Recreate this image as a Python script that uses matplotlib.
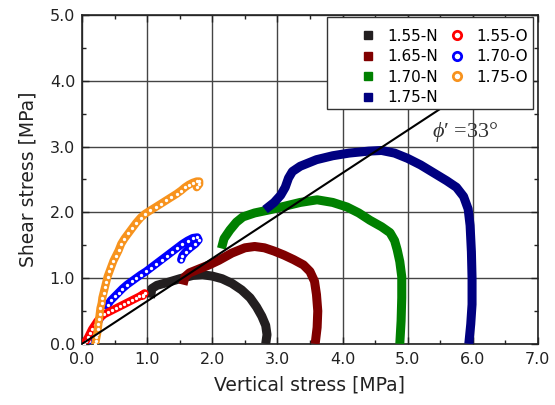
import numpy as np
import matplotlib
matplotlib.use("Agg")
import matplotlib.pyplot as plt
from matplotlib.patches import Rectangle
from matplotlib.ticker import MultipleLocator, FormatStrFormatter

plt.rcParams['font.family'] = ['DejaVu Sans']
plt.rcParams['mathtext.fontset'] = 'custom'
plt.rcParams['mathtext.it'] = 'Liberation Serif:italic'
plt.rcParams['mathtext.rm'] = 'Liberation Serif'

# Stress paths, dry density + condition (N / O)
n155_x = [1.05, 1.07, 1.15, 1.30, 1.50, 1.70, 1.85, 2.00, 2.15, 2.30, 2.45, 2.58, 2.68, 2.76, 2.82, 2.84, 2.82]
n155_y = [0.70, 0.84, 0.89, 0.93, 0.99, 1.04, 1.05, 1.03, 0.99, 0.92, 0.82, 0.70, 0.56, 0.42, 0.28, 0.14, 0.00]

n165_x = [1.55, 1.58, 1.65, 1.80, 1.95, 2.10, 2.30, 2.50, 2.65, 2.80, 2.95, 3.10, 3.25, 3.40, 3.50,
          3.57, 3.60, 3.62, 3.61, 3.58]
n165_y = [0.90, 1.02, 1.08, 1.14, 1.20, 1.27, 1.38, 1.46, 1.48, 1.46, 1.41, 1.35, 1.28, 1.20, 1.10,
          0.95, 0.75, 0.50, 0.25, 0.00]

n170_x = [2.14, 2.18, 2.27, 2.37, 2.47, 2.65, 2.89, 3.10, 3.35, 3.61, 3.85, 4.07, 4.25, 4.42, 4.60,
          4.73, 4.80, 4.84, 4.88, 4.91, 4.91, 4.90, 4.88]
n170_y = [1.45, 1.60, 1.73, 1.85, 1.93, 1.99, 2.04, 2.09, 2.15, 2.19, 2.15, 2.08, 1.99, 1.88, 1.78,
          1.69, 1.57, 1.43, 1.25, 1.02, 0.70, 0.35, 0.00]

n175_x = [2.81, 2.95, 3.05, 3.12, 3.17, 3.23, 3.35, 3.60, 3.85, 4.10, 4.40, 4.60, 4.80, 5.00, 5.20,
          5.40, 5.60, 5.75, 5.86, 5.93, 5.96, 5.98, 5.99, 5.99, 5.97, 5.94]
n175_y = [2.04, 2.15, 2.26, 2.38, 2.52, 2.62, 2.70, 2.80, 2.86, 2.90, 2.93, 2.94, 2.90, 2.82, 2.72,
          2.60, 2.48, 2.38, 2.24, 2.05, 1.80, 1.40, 1.00, 0.60, 0.30, 0.00]

o155_x = [0.03, 0.06, 0.09, 0.12, 0.15, 0.19, 0.23, 0.28, 0.34, 0.40, 0.46, 0.52,
          0.58, 0.64, 0.70, 0.76, 0.82, 0.88, 0.93, 0.96, 0.93]
o155_y = [0.00, 0.05, 0.10, 0.16, 0.22, 0.28, 0.34, 0.40, 0.45, 0.48, 0.51, 0.54,
          0.57, 0.60, 0.63, 0.66, 0.69, 0.72, 0.75, 0.77, 0.73]

o170_x = [0.10, 0.14, 0.18, 0.22, 0.26, 0.30, 0.34, 0.39, 0.44, 0.50, 0.56, 0.62, 0.69,
          0.76, 0.83, 0.90, 0.98, 1.06, 1.14, 1.22, 1.30, 1.38, 1.46, 1.54, 1.62, 1.70,
          1.77, 1.79, 1.74, 1.66, 1.59, 1.54, 1.52]
o170_y = [0.05, 0.12, 0.20, 0.28, 0.36, 0.44, 0.52, 0.59, 0.66, 0.72, 0.78, 0.84, 0.90,
          0.95, 1.00, 1.05, 1.10, 1.16, 1.22, 1.28, 1.34, 1.40, 1.46, 1.52, 1.57, 1.61,
          1.62, 1.58, 1.52, 1.46, 1.40, 1.34, 1.28]

o175_x = [0.20, 0.21, 0.22, 0.23, 0.24, 0.25, 0.26, 0.27, 0.28, 0.30, 0.31, 0.33, 0.35,
          0.37, 0.39, 0.42, 0.45, 0.48, 0.52, 0.56, 0.60, 0.65, 0.71, 0.77, 0.83, 0.90,
          0.97, 1.05, 1.13, 1.21, 1.29, 1.37, 1.45, 1.52, 1.58, 1.64, 1.70, 1.76, 1.80,
          1.80, 1.76]
o175_y = [0.00, 0.05, 0.10, 0.15, 0.22, 0.30, 0.38, 0.46, 0.54, 0.62, 0.70, 0.78, 0.86,
          0.94, 1.02, 1.10, 1.18, 1.26, 1.34, 1.42, 1.52, 1.60, 1.68, 1.76, 1.84, 1.92,
          1.98, 2.03, 2.08, 2.13, 2.18, 2.23, 2.28, 2.33, 2.38, 2.42, 2.45, 2.47, 2.47,
          2.43, 2.38]

phi_deg = 33
phi_x_end = 5.5

fig = plt.figure(figsize=(5.55, 4.05), dpi=100)
ax = fig.add_axes([0.148, 0.151, 0.821, 0.812])

n_series = [
    (n155_x, n155_y, '#231f20', '1.55-N'),
    (n165_x, n165_y, '#800000', '1.65-N'),
    (n170_x, n170_y, '#008000', '1.70-N'),
    (n175_x, n175_y, '#000080', '1.75-N'),
]
o_series = [
    (o155_x, o155_y, '#ff0000', '1.55-O'),
    (o170_x, o170_y, '#0000ff', '1.70-O'),
    (o175_x, o175_y, '#f7931e', '1.75-O'),
]
o_zorder = {'1.70-O': 3.4, '1.55-O': 3.5, '1.75-O': 3.6}

handles = []
for x, y, c, lab in n_series:
    ax.plot(x, y, color=c, lw=6.5, solid_capstyle='butt', solid_joinstyle='round', zorder=3)
    h, = ax.plot([], [], ls='none', marker='s', ms=6, color=c, label=lab)
    handles.append(h)
for x, y, c, lab in o_series:
    z = o_zorder[lab]
    # overlapping open circles: coloured band with the circle centres left white
    ax.plot(x, y, color=c, lw=5.8, solid_capstyle='round', solid_joinstyle='round', zorder=z)
    ax.plot(x, y, ls='none', marker='o', ms=2.4, mfc='white', mec='none', zorder=z + 0.01)
    h, = ax.plot([], [], ls='none', marker='o', ms=6, mfc='white', mec=c, mew=2.0, label=lab)
    handles.append(h)

# failure envelope line
xs = np.array([0.0, phi_x_end])
ax.plot(xs, xs * np.tan(np.radians(phi_deg)), color='black', lw=1.5, zorder=5)
ax.text(5.38, 3.22, "$\\mathit{\u03d5}$\u2032 =33°", family='Liberation Serif', fontsize=16,
        color='#333333', va='center', ha='left', zorder=6)

ax.set_xlim(0, 7)
ax.set_ylim(0, 5)
ax.xaxis.set_major_locator(MultipleLocator(1))
ax.yaxis.set_major_locator(MultipleLocator(1))
ax.xaxis.set_minor_locator(MultipleLocator(0.5))
ax.yaxis.set_minor_locator(MultipleLocator(0.5))
ax.xaxis.set_major_formatter(FormatStrFormatter('%.1f'))
ax.yaxis.set_major_formatter(FormatStrFormatter('%.1f'))
ax.tick_params(which='both', direction='in', top=True, right=True, labelsize=11.5,
               colors='#222222')
ax.tick_params(axis='x', pad=6)
ax.tick_params(axis='y', pad=5)
ax.tick_params(which='major', length=5, width=1)
ax.tick_params(which='minor', length=3, width=1)
ax.grid(which='major', color='#444444', lw=1.0)
ax.set_axisbelow(True)
for s in ax.spines.values():
    s.set_color('#222222')
    s.set_linewidth(1.2)

ax.set_xlabel('Vertical stress [MPa]', fontsize=13.5, color='#222222', labelpad=6)
ax.set_ylabel('Shear stress [MPa]', fontsize=13.5, color='#222222', labelpad=9)

# legend frame drawn separately so the entries can sit with extra room on the left
ax.add_patch(Rectangle((0.537, 0.714), 0.452, 0.280, transform=ax.transAxes,
                       facecolor='white', edgecolor='#333333', lw=1.0, zorder=6.5))
leg = ax.legend(handles=handles, ncol=2, loc='upper right', fontsize=11,
                bbox_to_anchor=(1 + 1 / 456, 1 - 3 / 329), borderaxespad=0,
                frameon=False, borderpad=0.7, handletextpad=0.3, columnspacing=0.3,
                labelspacing=0.36, handlelength=1.9)
leg.set_zorder(7)

fig.savefig('out.png', dpi=100)
